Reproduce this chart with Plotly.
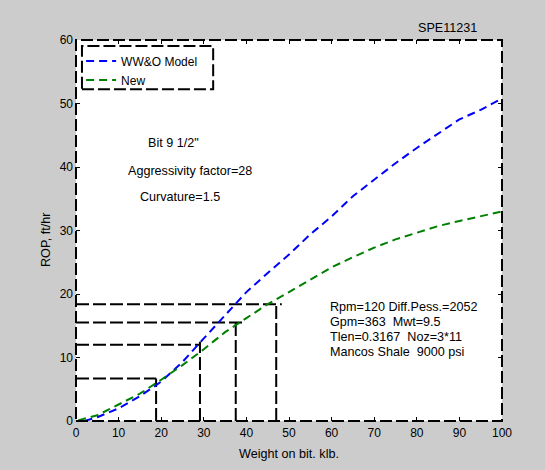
import plotly.graph_objects as go

# Weight on bit (klb) and rate of penetration (ft/hr) for both models
wob = [2, 5, 10, 15, 20, 25, 30, 35, 40, 45, 50, 55, 60, 65, 70, 75, 80, 85, 90, 95, 100]
rop_wwo = [0.0, 0.6, 2.0, 3.9, 6.2, 9.3, 13.0, 16.6, 20.3, 23.3, 26.2, 29.4, 32.2,
           35.4, 38.0, 40.6, 43.0, 45.2, 47.5, 49.0, 50.8]
wob_new = [0.5, 5, 10, 15, 20, 25, 30, 35, 40, 45, 50, 55, 60, 65, 70, 75, 80, 85, 90, 95, 100]
rop_new = [0.1, 0.9, 2.6, 4.3, 6.5, 8.8, 11.3, 14.0, 16.2, 18.4, 20.3, 22.3, 24.2,
           25.8, 27.3, 28.6, 29.7, 30.7, 31.5, 32.3, 33.0]

# Read-off guide lines: horizontal (rop level, x end) and vertical (wob, y end)
guide_h_rop = [6.7, 12.0, 15.5, 18.4]
guide_h_xend = [18.8, 29.1, 39.1, 48.3]
guide_v_wob = [18.8, 29.1, 37.5, 47.0]
guide_v_yend = [6.7, 12.5, 16.0, 18.4]

FONT = "Liberation Sans, Arial, sans-serif"
TXT = 12.6
GRID_DASH = "13px,4px"
CURVE_DASH = "8px,5px"
FRAME_DASH = "12px,4px"

fig = go.Figure()

for yv, xe in zip(guide_h_rop, guide_h_xend):
    fig.add_trace(go.Scatter(x=[0, xe], y=[yv, yv], mode="lines", showlegend=False,
                             hoverinfo="skip",
                             line=dict(color="black", width=2, dash=GRID_DASH)))
for xv, ye in zip(guide_v_wob, guide_v_yend):
    fig.add_trace(go.Scatter(x=[xv, xv], y=[0, ye], mode="lines", showlegend=False,
                             hoverinfo="skip",
                             line=dict(color="black", width=2, dash=GRID_DASH)))

fig.add_trace(go.Scatter(x=wob, y=rop_wwo, mode="lines", name="WW&O Model",
                         line=dict(color="#0000ff", width=2, dash=CURVE_DASH)))
fig.add_trace(go.Scatter(x=wob_new, y=rop_new, mode="lines", name="New",
                         line=dict(color="#008000", width=2, dash=CURVE_DASH)))

# Dashed axes frame and legend box
fig.add_shape(type="rect", xref="paper", yref="paper", x0=0, x1=1, y0=0, y1=1,
              line=dict(color="black", width=2, dash=FRAME_DASH), layer="above")
fig.add_shape(type="rect", xref="paper", yref="paper", x0=0.014, x1=0.322,
              y0=0.871, y1=0.984,
              line=dict(color="black", width=2, dash=FRAME_DASH), layer="above")

notes = [
    ("Bit 9 1/2\"", 173, 143),
    ("Aggressivity factor=28", 190, 171),
    ("Curvature=1.5", 180, 197),
]
for txt, px, py in notes:
    fig.add_annotation(text=txt, x=(px - 76) / 426, y=(421 - py) / 381,
                       xref="paper", yref="paper", showarrow=False,
                       xanchor="center", yanchor="middle",
                       font=dict(family=FONT, size=TXT, color="black"))

params = ["Rpm=120 Diff.Pess.=2052", "Gpm=363  Mwt=9.5",
          "Tlen=0.3167  Noz=3*11", "Mancos Shale  9000 psi"]
for i, txt in enumerate(params):
    py = 307 + i * 15
    fig.add_annotation(text=txt, x=(328 - 76) / 426, y=(421 - py) / 381,
                       xref="paper", yref="paper", showarrow=False,
                       xanchor="left", yanchor="middle",
                       font=dict(family=FONT, size=TXT, color="black"))

fig.add_annotation(text="SPE11231", x=(447 - 76) / 426, y=(421 - 28) / 381,
                   xref="paper", yref="paper", showarrow=False,
                   xanchor="center", yanchor="middle",
                   font=dict(family=FONT, size=TXT, color="black"))
fig.add_annotation(text="ROP, ft/hr", x=(46 - 76) / 426, y=(421 - 240) / 381,
                   xref="paper", yref="paper", showarrow=False, textangle=-90,
                   xanchor="center", yanchor="middle",
                   font=dict(family=FONT, size=TXT, color="black"))

fig.update_layout(
    width=545, height=470,
    margin=dict(l=76, r=43, t=40, b=49),
    paper_bgcolor="#cccccc", plot_bgcolor="white",
    font=dict(family=FONT, size=12, color="black"),
    legend=dict(x=0.012, y=0.983, xanchor="left", yanchor="top",
                bgcolor="rgba(0,0,0,0)", borderwidth=0,
                font=dict(family=FONT, size=12, color="black"),
                tracegroupgap=0),
)
fig.update_xaxes(range=[0, 100], dtick=10, showgrid=False, zeroline=False,
                 showline=False, ticks="inside", ticklen=4, tickcolor="black",
                 mirror="ticks", tickfont=dict(size=12), ticklabelstandoff=3,
                 title=dict(text="Weight on bit. klb.", standoff=10,
                            font=dict(size=TXT)))
fig.update_yaxes(range=[0, 60], dtick=10, showgrid=False, zeroline=False,
                 showline=False, ticks="inside", ticklen=4, tickcolor="black",
                 mirror="ticks", tickfont=dict(size=12), ticklabelstandoff=2)

fig.write_html("out.html")
